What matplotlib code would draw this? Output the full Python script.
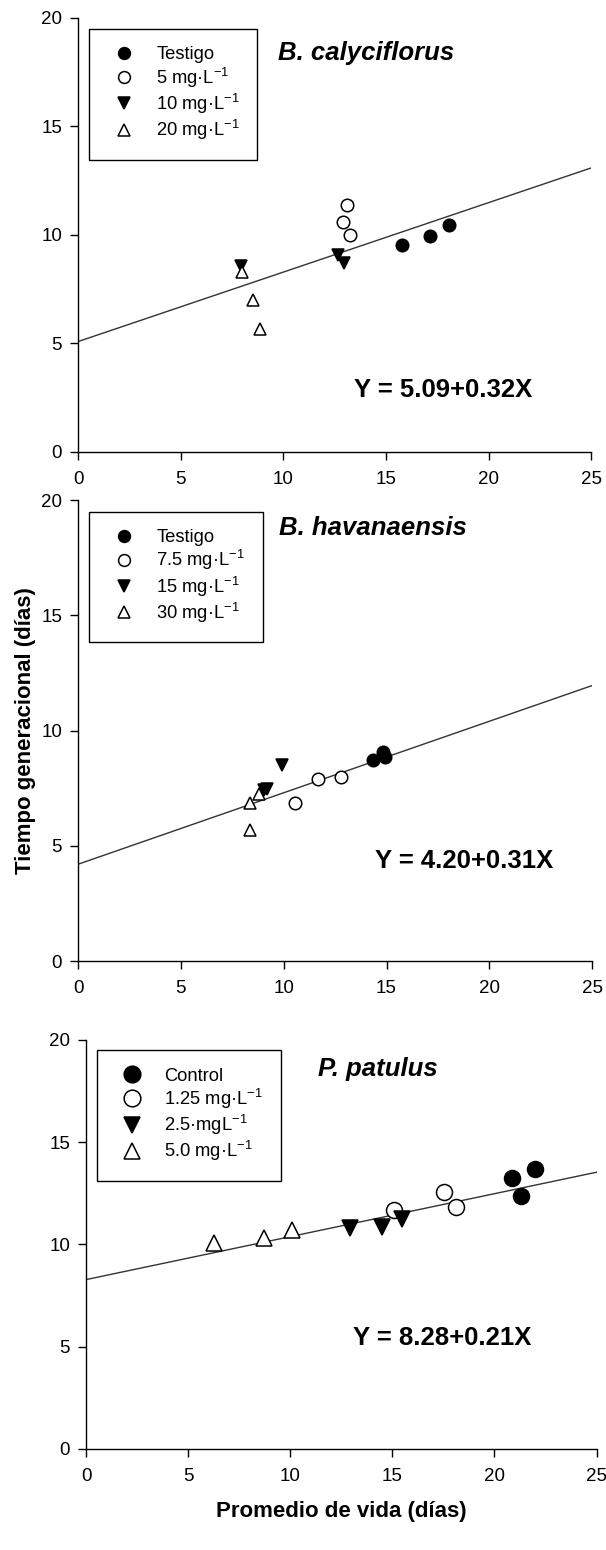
import numpy as np
import matplotlib
matplotlib.use("Agg")
import matplotlib.pyplot as plt

plt.rcParams["font.family"] = ["Liberation Sans", "DejaVu Sans"]
plt.rcParams["mathtext.fontset"] = "custom"
plt.rcParams["mathtext.rm"] = "Liberation Sans"
plt.rcParams["mathtext.it"] = "Liberation Sans:italic"
plt.rcParams["mathtext.bf"] = "Liberation Sans:bold"

# --- B. calyciflorus ---
cal_labels = ["Testigo", "5 mg·L$^{-1}$", "10 mg·L$^{-1}$", "20 mg·L$^{-1}$"]
cal_x = [[15.8, 17.15, 18.05], [13.1, 12.9, 13.25], [7.95, 12.65, 12.95], [8.0, 8.5, 8.85]]
cal_y = [[9.55, 9.95, 10.45], [11.4, 10.6, 10.0], [8.55, 9.1, 8.7], [8.3, 7.0, 5.65]]
cal_fit = (5.09, 0.32)

# --- B. havanaensis ---
hav_labels = ["Testigo", "7.5 mg·L$^{-1}$", "15 mg·L$^{-1}$", "30 mg·L$^{-1}$"]
hav_x = [[14.35, 14.85, 14.95], [10.55, 11.65, 12.8], [9.9, 9.05, 9.2], [8.35, 8.8, 8.35]]
hav_y = [[8.7, 9.05, 8.85], [6.85, 7.9, 8.0], [8.5, 7.4, 7.45], [6.85, 7.25, 5.7]]
hav_fit = (4.20, 0.31)

# --- P. patulus ---
pat_labels = ["Control", "1.25 mg·L$^{-1}$", "2.5·mgL$^{-1}$", "5.0 mg·L$^{-1}$"]
pat_x = [[20.85, 21.3, 22.0], [15.1, 17.55, 18.1], [12.95, 14.5, 15.45], [6.25, 8.7, 10.1]]
pat_y = [[13.25, 12.35, 13.7], [11.7, 12.55, 11.85], [10.8, 10.85, 11.25], [10.05, 10.3, 10.7]]
pat_fit = (8.28, 0.21)

styles = [("o", "black"), ("o", "white"), ("v", "black"), ("^", "white")]

fig = plt.figure(figsize=(6.06, 15.5), dpi=100)


def panel(rect, title, title_xy, labels, xs, ys, fit, eq_xy, ms, leg_ms):
    ax = fig.add_axes(rect)
    for (mk, fc), lab, x, y in zip(styles, labels, xs, ys):
        ax.plot(x, y, linestyle="none", marker=mk, markersize=ms,
                markerfacecolor=fc, markeredgecolor="black",
                markeredgewidth=1.1, label=lab, zorder=3)
    a, b = fit
    xl = np.array([0, 25])
    ax.plot(xl, a + b * xl, color="#333333", lw=1.0, zorder=2)
    ax.set_xlim(0, 25)
    ax.set_ylim(0, 20)
    ax.set_xticks(range(0, 26, 5))
    ax.set_yticks(range(0, 21, 5))
    for s in ("top", "right"):
        ax.spines[s].set_visible(False)
    for s in ("left", "bottom"):
        ax.spines[s].set_linewidth(1.0)
    ax.tick_params(direction="out", length=5.5, width=1.0, labelsize=13.5)
    ax.tick_params(axis="x", pad=8)
    ax.tick_params(axis="y", pad=6)
    ax.text(*title_xy, title, fontsize=18.5, fontweight="bold", style="italic",
            ha="left", va="center")
    ax.text(*eq_xy, "Y = %.2f+%.2fX" % (a, b), fontsize=18.5, fontweight="bold",
            ha="center", va="center")
    leg = ax.legend(loc="upper left", bbox_to_anchor=(0.022, 0.975),
                    borderaxespad=0, fontsize=13.2, markerscale=leg_ms / ms,
                    handlelength=1.85, handletextpad=0.85, labelspacing=0.12,
                    borderpad=0.95, fancybox=False, edgecolor="black",
                    framealpha=1)
    leg.get_frame().set_linewidth(1.0)
    return ax


panel([0.129, 0.7084, 0.8465, 0.28], "B. calyciflorus", (9.75, 18.4),
      cal_labels, cal_x, cal_y, cal_fit, (17.8, 2.85), 9, 8.5)
ax2 = panel([0.129, 0.380, 0.848, 0.2974], "B. havanaensis", (9.75, 18.8),
            hav_labels, hav_x, hav_y, hav_fit, (18.8, 4.35), 9, 8.5)
ax2.set_ylabel("Tiempo generacional (días)", fontsize=16, fontweight="bold",
               labelpad=4)
ax3 = panel([0.142, 0.0652, 0.8424, 0.2639], "P. patulus", (11.35, 18.6),
            pat_labels, pat_x, pat_y, pat_fit, (17.45, 5.4), 11.5, 12)
ax3.set_xlabel("Promedio de vida (días)", fontsize=16, fontweight="bold",
               labelpad=12)

fig.savefig("out.png", dpi=100)
